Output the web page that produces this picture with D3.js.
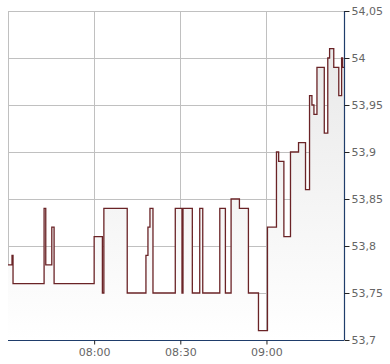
<!DOCTYPE html>
<html>
<head>
<meta charset="utf-8">
<script src="https://cdn.jsdelivr.net/npm/d3@7"></script>
<style>
  body { margin: 0; background: #fff; }
  text { font-family: "DejaVu Sans", Verdana, sans-serif; font-size: 11px; fill: #666; }
</style>
</head>
<body>
<div id="vis"></div>
<script>
const times = [
  "07:30:00", "07:31:24", "07:31:45", "07:42:34", "07:43:09", "07:45:15", "07:46:03",
  "08:00:00", "08:02:52", "08:03:23", "08:11:31", "08:18:02", "08:18:44", "08:19:26",
  "08:20:29", "08:28:15", "08:30:35", "08:30:56", "08:34:11", "08:36:46", "08:37:49",
  "08:43:45", "08:45:42", "08:47:41", "08:50:35", "08:53:43", "08:57:13", "09:00:21",
  "09:03:29", "09:04:15", "09:06:04", "09:08:22", "09:11:10", "09:13:36", "09:15:00",
  "09:15:50", "09:16:32", "09:17:35", "09:20:08", "09:21:21", "09:21:59", "09:23:26",
  "09:25:11", "09:26:10", "09:26:31", "09:27:00"
];
const prices = [
  53.78, 53.79, 53.76, 53.84, 53.78, 53.82, 53.76,
  53.81, 53.75, 53.84, 53.75, 53.79, 53.82, 53.84,
  53.75, 53.84, 53.75, 53.84, 53.75, 53.84, 53.75,
  53.84, 53.75, 53.85, 53.84, 53.75, 53.71, 53.82,
  53.90, 53.89, 53.81, 53.90, 53.91, 53.86, 53.96,
  53.95, 53.94, 53.99, 53.92, 54.00, 54.01, 53.99,
  53.96, 54.00, 53.99, 53.99
];
const xTicks = ["08:00:00", "08:30:00", "09:00:00"];
const yTicks = [53.7, 53.75, 53.8, 53.85, 53.9, 53.95, 54, 54.05];
const xDomain = ["07:30:00", "09:27:00"];
const yDomain = [53.7, 54.05];

const width = 390, height = 364;
const plotLeft = 8, plotRight = 344, plotTop = 11, plotBottom = 340;

const parse = d3.timeParse("%H:%M:%S");
const data = times.map((t, i) => ({ t: parse(t), v: prices[i] }));

const x = d3.scaleTime().domain(xDomain.map(parse)).range([plotLeft, plotRight]);
const y = d3.scaleLinear().domain(yDomain).range([plotBottom, plotTop]);

const svg = d3.select("#vis").append("svg")
  .attr("width", width)
  .attr("height", height);

const grad = svg.append("defs").append("linearGradient")
  .attr("id", "fade")
  .attr("gradientUnits", "userSpaceOnUse")
  .attr("x1", 0).attr("x2", 0)
  .attr("y1", plotTop).attr("y2", plotBottom);
grad.append("stop").attr("offset", 0).attr("stop-color", "#e6e6e6");
grad.append("stop").attr("offset", 1).attr("stop-color", "#ffffff");

// grid
svg.append("g")
  .selectAll("line")
  .data(yTicks)
  .enter().append("line")
  .attr("x1", plotLeft).attr("x2", plotRight)
  .attr("y1", d => Math.round(y(d)) + 0.5)
  .attr("y2", d => Math.round(y(d)) + 0.5)
  .attr("stroke", "#c0c0c0");

svg.append("g")
  .selectAll("line")
  .data([xDomain[0]].concat(xTicks).map(parse))
  .enter().append("line")
  .attr("x1", d => Math.round(x(d)) + 0.5)
  .attr("x2", d => Math.round(x(d)) + 0.5)
  .attr("y1", plotTop).attr("y2", plotBottom)
  .attr("stroke", "#c0c0c0");

// area + line
svg.append("path")
  .datum(data)
  .attr("fill", "url(#fade)")
  .attr("d", d3.area()
    .curve(d3.curveStepAfter)
    .x(d => x(d.t))
    .y0(plotBottom)
    .y1(d => y(d.v)));

svg.append("path")
  .datum(data)
  .attr("fill", "none")
  .attr("stroke", "#6a2326")
  .attr("stroke-width", 1.3)
  .attr("d", d3.line()
    .curve(d3.curveStepAfter)
    .x(d => x(d.t))
    .y(d => y(d.v)));

// axes
const fmt = d3.formatLocale({ decimal: ",", thousands: ".", grouping: [3], currency: ["", ""] });

const yAxis = svg.append("g")
  .attr("transform", `translate(${plotRight + 0.5},0)`)
  .call(d3.axisRight(y)
    .tickValues(yTicks)
    .tickSize(5)
    .tickPadding(2)
    .tickFormat(d => fmt.format("~r")(+d.toFixed(2))));

const xAxis = svg.append("g")
  .attr("transform", `translate(0,${plotBottom + 0.5})`)
  .call(d3.axisBottom(x)
    .tickValues(xTicks.map(parse))
    .tickSize(4)
    .tickPadding(4)
    .tickFormat(d3.timeFormat("%H:%M")));

[yAxis, xAxis].forEach(g => {
  g.select(".domain").attr("stroke", "#1f3d6b").attr("stroke-width", 1.2);
  g.selectAll(".tick line").attr("stroke", "#222");
  g.selectAll("text")
    .attr("fill", "#666")
    .style("font-family", "'DejaVu Sans', Verdana, sans-serif")
    .style("font-size", "11px");
});
yAxis.select(".domain").attr("d", `M0,${plotTop}V${plotBottom}`);
xAxis.select(".domain").attr("d", `M${plotLeft},0H${plotRight}`);
</script>
</body>
</html>
